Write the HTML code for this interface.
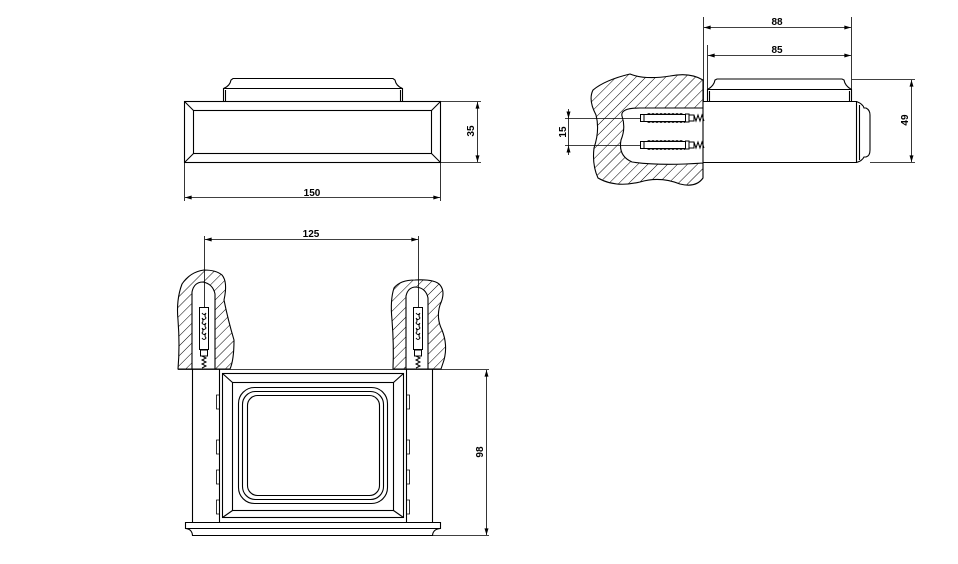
<!DOCTYPE html>
<html><head><meta charset="utf-8"><style>
html,body{margin:0;padding:0;background:#fff;}
svg{display:block;}
text{font-family:"Liberation Sans",sans-serif;font-weight:bold;font-size:10px;fill:#000;}
</style></head><body>
<svg width="958" height="564" viewBox="0 0 958 564" xmlns="http://www.w3.org/2000/svg">
<defs>
<pattern id="h" patternUnits="userSpaceOnUse" width="7" height="7" patternTransform="rotate(45)">
<line x1="0" y1="0" x2="0" y2="7" stroke="#000" stroke-width="1"/>
</pattern>
<marker id="a" viewBox="0 0 10 6" refX="10" refY="3" markerWidth="8" markerHeight="4" orient="auto-start-reverse" markerUnits="userSpaceOnUse">
<path d="M0,0 L10,3 L0,6 z" fill="#000"/>
</marker>
</defs>
<g fill="none" stroke="#000" stroke-width="1.1">
<!-- FRONT VIEW -->
<rect x="184.5" y="101.5" width="256" height="61"/>
<rect x="193.5" y="110.5" width="238" height="43"/>
<line x1="184.5" y1="101.5" x2="193.5" y2="110.5"/>
<line x1="440.5" y1="101.5" x2="431.5" y2="110.5"/>
<line x1="184.5" y1="162.5" x2="193.5" y2="153.5"/>
<line x1="440.5" y1="162.5" x2="431.5" y2="153.5"/>
<path d="M223.5,101 V88.5 H402.5 V101"/>
<path d="M225.5,101 V90"/><path d="M400.5,101 V90"/>
<path d="M223.5,88.5 Q230,86 231,80 L233,78.5 H393 L395,80 Q396,86 402.5,88.5"/>
<line x1="441" y1="101.5" x2="481" y2="101.5" stroke-width="0.8"/>
<line x1="441" y1="162.5" x2="481" y2="162.5" stroke-width="0.8"/>
<line x1="477.5" y1="102" x2="477.5" y2="162" marker-start="url(#a)" marker-end="url(#a)" stroke-width="0.8"/>
<line x1="184.5" y1="163" x2="184.5" y2="201" stroke-width="0.8"/>
<line x1="440.5" y1="163" x2="440.5" y2="201" stroke-width="0.8"/>
<line x1="185" y1="197.5" x2="440" y2="197.5" marker-start="url(#a)" marker-end="url(#a)" stroke-width="0.8"/>

<!-- SIDE VIEW -->
<path d="M703.5,101.5 H856.5 V162.5 H703.5"/>
<path d="M856.5,101.5 Q863,104 864,108 L866,108 Q870,110 870,115 V150 Q870,156 866,157 L864,157 Q862,161 856.5,162.5"/>
<path d="M859.5,105 V160"/>
<path d="M707.5,101 V89.5 H851.5 V101"/>
<path d="M709.5,101 V91"/><path d="M849.5,101 V91"/>
<path d="M707.5,89.5 Q714,86 715,80 L717,79 H842 L844,80 Q845,86 851.5,89.5"/>
<path fill="url(#h)" fill-rule="evenodd" d="M703,80 Q690,72 670,76 Q645,80 630,74 Q605,80 593,90 Q588,100 596,115 Q600,130 594,148 Q592,165 598,178 Q615,188 640,182 Q660,176 680,184 Q696,188 703,178 Z M703,108 H640 Q620,108 622,116 Q626,128 621,140 Q618,156 632,162 Q660,166 703,163 Z"/>
<g stroke-width="1">
<rect x="640.5" y="114.5" width="45" height="7"/>
<rect x="640.5" y="141.5" width="45" height="7"/>
<path d="M644,114.5 V121.5 M685,114 h4 v8 h-4 M689,115 h5 v6 h-5 M644,141.5 V148.5 M685,141 h4 v8 h-4 M689,142 h5 v6 h-5"/>
<path d="M694,115 l2,6 l2,-6 l2,6 l2,-6 l2,6 M694,142 l2,6 l2,-6 l2,6 l2,-6 l2,6"/>
<path d="M647,114.5 l2,-1 l2,1 l2,-1 l2,1 l2,-1 l2,1 l2,-1 l2,1 l2,-1 l2,1 l2,-1 l2,1 l2,-1 l2,1 l2,-1 l2,1 l2,-1 l2,1 M647,121.5 l2,1 l2,-1 l2,1 l2,-1 l2,1 l2,-1 l2,1 l2,-1 l2,1 l2,-1 l2,1 l2,-1 l2,1 l2,-1 l2,1 l2,-1 l2,1 l2,-1 l2,1"/>
<path d="M647,141.5 l2,-1 l2,1 l2,-1 l2,1 l2,-1 l2,1 l2,-1 l2,1 l2,-1 l2,1 l2,-1 l2,1 l2,-1 l2,1 l2,-1 l2,1 l2,-1 l2,1 M647,148.5 l2,1 l2,-1 l2,1 l2,-1 l2,1 l2,-1 l2,1 l2,-1 l2,1 l2,-1 l2,1 l2,-1 l2,1 l2,-1 l2,1 l2,-1 l2,1 l2,-1 l2,1"/>
</g>
<line x1="703.5" y1="17" x2="703.5" y2="101" stroke-width="0.8"/>
<line x1="851.5" y1="17" x2="851.5" y2="89" stroke-width="0.8"/>
<line x1="707.5" y1="45" x2="707.5" y2="89" stroke-width="0.8"/>
<line x1="704" y1="27.5" x2="851" y2="27.5" marker-start="url(#a)" marker-end="url(#a)" stroke-width="0.8"/>
<line x1="708" y1="55.5" x2="851" y2="55.5" marker-start="url(#a)" marker-end="url(#a)" stroke-width="0.8"/>
<line x1="852" y1="79.5" x2="915" y2="79.5" stroke-width="0.8"/>
<line x1="870" y1="162.5" x2="915" y2="162.5" stroke-width="0.8"/>
<line x1="911.5" y1="80" x2="911.5" y2="162" marker-start="url(#a)" marker-end="url(#a)" stroke-width="0.8"/>
<line x1="565" y1="118.5" x2="641" y2="118.5" stroke-width="0.8"/>
<line x1="565" y1="145.5" x2="641" y2="145.5" stroke-width="0.8"/>
<line x1="568.5" y1="109" x2="568.5" y2="155" stroke-width="0.8"/>
<path d="M568.5,118.5 l-2,-7 h4 z M568.5,145.5 l-2,7 h4 z" fill="#000" stroke="none"/>

<!-- BOTTOM VIEW -->
<path fill="url(#h)" fill-rule="evenodd" d="M178,369 Q180,345 178,320 Q176,300 182,284 Q190,272 204,270 Q216,270 222,275 Q228,282 224,300 Q228,320 234,340 Q234,360 230,369 Z M192,369 V292 Q194,282 203,282 Q213,284 215,294 V369 Z"/>
<path fill="url(#h)" fill-rule="evenodd" d="M393,369 Q394,345 392,320 Q390,300 394,288 Q400,280 415,280 Q435,279 440,285 Q446,292 440,305 Q436,318 442,330 Q448,345 444,360 L441,369 Z M406,369 V296 Q408,287 416,287 Q426,288 428,298 V369 Z"/>
<g stroke-width="1">
<rect x="199.5" y="307.5" width="9" height="42"/>
<rect x="413.5" y="307.5" width="9" height="42"/>
<path d="M200.5,350 h7 v6 h-7 z M414.5,350 h7 v6 h-7 z"/>
<path d="M202,356 l4,2 l-4,2 l4,2 l-4,2 l4,2 l-4,2 M416,356 l4,2 l-4,2 l4,2 l-4,2 l4,2 l-4,2"/>
<path d="M202,313 q2,3 4,0 q-2,3 0,5 q-2,3 -4,0 q2,3 0,5 q2,3 4,0 q-2,3 0,5 q-2,3 -4,0 q2,3 0,5 q2,3 4,0 q-2,3 0,5 q-2,3 -4,0 M416,313 q2,3 4,0 q-2,3 0,5 q-2,3 -4,0 q2,3 0,5 q2,3 4,0 q-2,3 0,5 q-2,3 -4,0 q2,3 0,5 q2,3 4,0 q-2,3 0,5 q-2,3 -4,0"/>
</g>
<line x1="204.5" y1="236" x2="204.5" y2="307" stroke-width="0.8"/>
<line x1="418.5" y1="236" x2="418.5" y2="307" stroke-width="0.8"/>
<line x1="205" y1="239.5" x2="418" y2="239.5" marker-start="url(#a)" marker-end="url(#a)" stroke-width="0.8"/>
<path d="M192.5,369 V522 M219.5,369 V522 M406.5,369 V522 M432.5,369 V522"/>
<line x1="178" y1="369.5" x2="489" y2="369.5" stroke-width="0.8"/>
<path d="M219.5,395 h-3 v14 h3 M219.5,440 h-3 v14 h3 M219.5,470 h-3 v14 h3 M219.5,500 h-3 v14 h3 M406.5,395 h3 v14 h-3 M406.5,440 h3 v14 h-3 M406.5,470 h3 v14 h-3 M406.5,500 h3 v14 h-3" stroke-width="0.8"/>
<rect x="222.5" y="373.5" width="181" height="144"/>
<rect x="232.5" y="382.5" width="161" height="128"/>
<path d="M222.5,373.5 L232.5,382.5 M403.5,373.5 L393.5,382.5 M222.5,517.5 L232.5,510.5 M403.5,517.5 L393.5,510.5"/>
<rect x="238.5" y="387.5" width="149" height="116" rx="16"/>
<rect x="242.5" y="391.5" width="141" height="108" rx="13"/>
<rect x="247.5" y="395.5" width="132" height="100" rx="10"/>
<path d="M185.5,522.5 H440.5 V528.5 H185.5 Z"/>
<path d="M185.5,528.5 Q192,529 192.5,535.5 H432.5 Q433,529 440.5,528.5"/>
<line x1="433" y1="535.5" x2="489" y2="535.5" stroke-width="0.8"/>
<line x1="486.5" y1="370" x2="486.5" y2="535" marker-start="url(#a)" marker-end="url(#a)" stroke-width="0.8"/>
</g>
<text x="312" y="196" text-anchor="middle">150</text>
<text transform="translate(474,131) rotate(-90)" text-anchor="middle">35</text>
<text x="777" y="25" text-anchor="middle">88</text>
<text x="777" y="53" text-anchor="middle">85</text>
<text transform="translate(908,120) rotate(-90)" text-anchor="middle">49</text>
<text transform="translate(566,132) rotate(-90)" text-anchor="middle">15</text>
<text x="311" y="237" text-anchor="middle">125</text>
<text transform="translate(483,452) rotate(-90)" text-anchor="middle">98</text>
</svg>
</body></html>
